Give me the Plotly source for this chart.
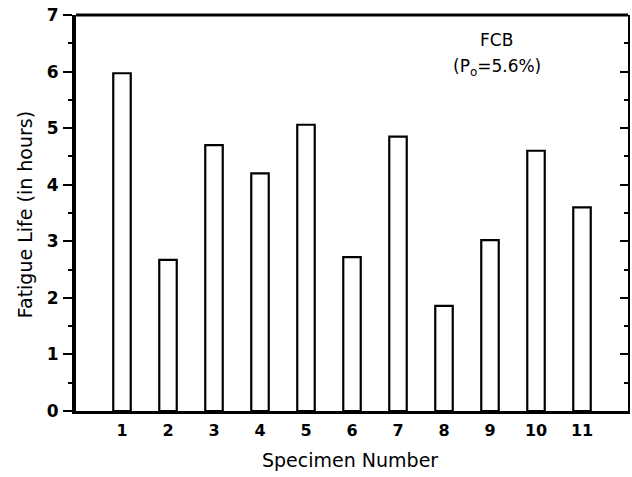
import plotly.graph_objects as go

specimens = [1, 2, 3, 4, 5, 6, 7, 8, 9, 10, 11]
fatigue_life = [5.97, 2.67, 4.70, 4.20, 5.06, 2.72, 4.85, 1.86, 3.02, 4.60, 3.60]
y_ticks = [0, 1, 2, 3, 4, 5, 6, 7]

FONT = "DejaVu Sans"

fig = go.Figure()
fig.add_trace(go.Bar(
    x=specimens, y=fatigue_life, width=0.38,
    marker=dict(color="white", line=dict(color="black", width=2.2)),
    showlegend=False,
))
# invisible trace to activate right axis
fig.add_trace(go.Scatter(x=[1], y=[0], yaxis="y2", mode="markers",
                         marker=dict(opacity=0), showlegend=False, hoverinfo="skip"))

fig.update_layout(
    width=632, height=477,
    margin=dict(l=76, r=4, t=15, b=66),
    plot_bgcolor="white", paper_bgcolor="white",
    xaxis=dict(
        range=[0, 12], tickvals=specimens, ticktext=[str(s) for s in specimens],
        showgrid=False, zeroline=False, ticks="", ticklabelstandoff=3, automargin=False,
        showline=True, linecolor="black", linewidth=3, mirror=False,
        tickfont=dict(family=FONT, size=16, color="black", weight="bold"),
    ),
    yaxis=dict(
        range=[0, 7], tickvals=y_ticks, ticktext=[str(v) for v in y_ticks],
        showgrid=False, zeroline=False, ticks="outside", ticklen=9, tickwidth=2,
        tickcolor="black", showline=True, linecolor="black", linewidth=4, automargin=False,
        minor=dict(dtick=0.5, ticks="outside", ticklen=4, tickwidth=2, tickcolor="black", showgrid=False),
        tickfont=dict(family=FONT, size=17, color="black", weight="bold"),
        ticklabelstandoff=1,
    ),
    yaxis2=dict(
        range=[0, 7], overlaying="y", side="right", tickvals=y_ticks,
        showticklabels=False, showgrid=False, zeroline=False, automargin=False,
        ticks="inside", ticklen=8, tickwidth=2, tickcolor="black",
        minor=dict(dtick=0.5, ticks="inside", ticklen=4, tickwidth=2, tickcolor="black", showgrid=False),
        showline=True, linecolor="black", linewidth=2,
    ),
    shapes=[dict(type="line", xref="paper", yref="paper", x0=0, x1=1, y0=1, y1=1,
                 line=dict(color="black", width=3))],
    annotations=[
        dict(text="Specimen Number", xref="paper", yref="paper", x=0.496, y=-0.124,
             xanchor="center", yanchor="middle", showarrow=False,
             font=dict(family=FONT, size=19, color="black")),
        dict(text="Fatigue Life (in hours)", xref="paper", yref="paper", x=-0.092, y=0.495,
             xanchor="center", yanchor="middle", showarrow=False, textangle=-90,
             font=dict(family=FONT, size=19, color="black")),
        dict(text="FCB", xref="x", yref="paper", x=9.15, y=0.937, showarrow=False,
             xanchor="center", yanchor="middle",
             font=dict(family=FONT, size=17, color="black")),
        dict(text="(P<sub>o</sub>=5.6%)", xref="x", yref="paper", x=9.15, y=0.868, showarrow=False,
             xanchor="center", yanchor="middle",
             font=dict(family=FONT, size=17, color="black")),
    ],
)

fig.write_html("out.html", config={"displayModeBar": False},
               post_script="document.body.style.margin='0';document.body.style.overflow='hidden';")
